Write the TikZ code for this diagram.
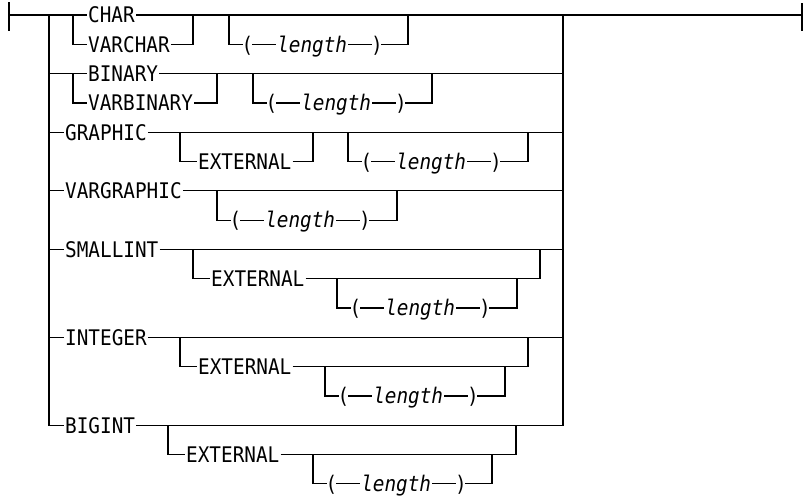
\documentclass[tikz,border=0pt]{standalone}
\usepackage{fontspec}
\setmonofont[FakeStretch=0.9]{DejaVu Sans Mono}
\usetikzlibrary{positioning}
\newcommand{\railfont}{\ttfamily\fontsize{21.5}{25}\selectfont}
\tikzstyle{kw} = [anchor=west, inner xsep=1pt, inner ysep=0pt, text height=15.6pt, text depth=0pt, font=\railfont]
\tikzstyle{paren} = [kw, inner xsep=-1.5pt]
\tikzstyle{param} = [kw, font=\railfont\itshape]
\tikzstyle{rail} = [draw, line width=1.2pt]
\tikzstyle{bar} = [draw, line width=2.2pt]

\begin{document}
\begin{tikzpicture}[x=1pt, y=-29.3pt]
    \useasboundingbox (0,-0.512) rectangle (803,16.45);
    \coordinate (start) at (9,0);
    \coordinate (stop) at (802,0);
    \coordinate (ml) at (49,0);
    \coordinate (mr) at (563,0);

    % CHAR / VARCHAR
    \node (char) [kw] at (87,0) {CHAR};
    \node (varchar) [kw] at (87,1) {VARCHAR};
    \coordinate (b1) at (73,0);
    \coordinate (m1) at (193,0);
    \coordinate (o1) at (229,0);
    \coordinate (o1e) at (408,0);
    \node (lp1) [paren] at (243,1) {(};
    \node (len1) [param, right=24pt of lp1] {length};
    \node (rp1) [paren, right=24pt of len1] {)};

    % BINARY / VARBINARY
    \node (binary) [kw] at (87,2) {BINARY};
    \node (varbinary) [kw] at (87,3) {VARBINARY};
    \coordinate (b2) at (73,2);
    \coordinate (m2) at (217,2);
    \coordinate (o2) at (253,2);
    \coordinate (o2e) at (432,2);
    \node (lp2) [paren] at (267,3) {(};
    \node (len2) [param, right=24pt of lp2] {length};
    \node (rp2) [paren, right=24pt of len2] {)};

    % GRAPHIC
    \node (graphic) [kw] at (64,4) {GRAPHIC};
    \coordinate (e1) at (180,4);
    \node (ext1) [kw] at (197,5) {EXTERNAL};
    \coordinate (e1e) at (313,4);
    \coordinate (o3) at (348,4);
    \coordinate (o3e) at (528,4);
    \node (lp3) [paren] at (362,5) {(};
    \node (len3) [param, right=24pt of lp3] {length};
    \node (rp3) [paren, right=24pt of len3] {)};

    % VARGRAPHIC
    \node (vargraphic) [kw] at (64,6) {VARGRAPHIC};
    \coordinate (o4) at (217,6);
    \coordinate (o4e) at (397,6);
    \node (lp4) [paren] at (231,7) {(};
    \node (len4) [param, right=24pt of lp4] {length};
    \node (rp4) [paren, right=24pt of len4] {)};

    % SMALLINT
    \node (smallint) [kw] at (64,8) {SMALLINT};
    \coordinate (e2) at (193,8);
    \node (ext2) [kw] at (210,9) {EXTERNAL};
    \coordinate (e2e) at (540,8);
    \coordinate (o5) at (337,9);
    \coordinate (o5e) at (517,9);
    \node (lp5) [paren] at (351,10) {(};
    \node (len5) [param, right=24pt of lp5] {length};
    \node (rp5) [paren, right=24pt of len5] {)};

    % INTEGER
    \node (integer) [kw] at (64,11) {INTEGER};
    \coordinate (e3) at (180,11);
    \node (ext3) [kw] at (197,12) {EXTERNAL};
    \coordinate (e3e) at (528,11);
    \coordinate (o6) at (325,12);
    \coordinate (o6e) at (505,12);
    \node (lp6) [paren] at (339,13) {(};
    \node (len6) [param, right=24pt of lp6] {length};
    \node (rp6) [paren, right=24pt of len6] {)};

    % BIGINT
    \node (bigint) [kw] at (64,14) {BIGINT};
    \coordinate (e4) at (168,14);
    \node (ext4) [kw] at (185,15) {EXTERNAL};
    \coordinate (e4e) at (516,14);
    \coordinate (o7) at (313,15);
    \coordinate (o7e) at (492,15);
    \node (lp7) [paren] at (327,16) {(};
    \node (len7) [param, right=24pt of lp7] {length};
    \node (rp7) [paren, right=24pt of len7] {)};

    % main line and ends
    \draw [rail] ([yshift=13pt]start) -- ([yshift=-16pt]start);
    \draw [rail] ([yshift=12pt]stop) -- ([yshift=-16pt]stop);
    \draw [rail] (start) -- (char.west);
    \draw [rail] (char.east) -- (stop);
    \draw [bar] (start) -- ([xshift=16pt]start);
    \draw [bar] ([xshift=7pt]mr) -- ([xshift=30pt]mr);
    \draw [rail] (ml) |- (bigint.west);
    \draw [rail] (bigint.east) -| (mr);

    \draw [rail] (b1) |- (varchar.west);
    \draw [rail] (varchar.east) -| (m1);
    \draw [rail] (o1) |- (lp1.west);
    \draw [rail] (lp1) -- (len1);
    \draw [rail] (len1) -- (rp1);
    \draw [rail] (rp1.east) -| (o1e);

    \draw [rail] (ml |- binary) -- (binary.west);
    \draw [rail] (binary.east) -- (mr |- binary);
    \draw [rail] (b2) |- (varbinary.west);
    \draw [rail] (varbinary.east) -| (m2);
    \draw [rail] (o2) |- (lp2.west);
    \draw [rail] (lp2) -- (len2);
    \draw [rail] (len2) -- (rp2);
    \draw [rail] (rp2.east) -| (o2e);

    \draw [rail] (ml |- graphic) -- (graphic.west);
    \draw [rail] (graphic.east) -- (mr |- graphic);
    \draw [rail] (e1) |- (ext1.west);
    \draw [rail] (ext1.east) -| (e1e);
    \draw [rail] (o3) |- (lp3.west);
    \draw [rail] (lp3) -- (len3);
    \draw [rail] (len3) -- (rp3);
    \draw [rail] (rp3.east) -| (o3e);

    \draw [rail] (ml |- vargraphic) -- (vargraphic.west);
    \draw [rail] (vargraphic.east) -- (mr |- vargraphic);
    \draw [rail] (o4) |- (lp4.west);
    \draw [rail] (lp4) -- (len4);
    \draw [rail] (len4) -- (rp4);
    \draw [rail] (rp4.east) -| (o4e);

    \draw [rail] (ml |- smallint) -- (smallint.west);
    \draw [rail] (smallint.east) -- (mr |- smallint);
    \draw [rail] (e2) |- (ext2.west);
    \draw [rail] (ext2.east) -| (e2e);
    \draw [rail] (o5) |- (lp5.west);
    \draw [rail] (lp5) -- (len5);
    \draw [rail] (len5) -- (rp5);
    \draw [rail] (rp5.east) -| (o5e);

    \draw [rail] (ml |- integer) -- (integer.west);
    \draw [rail] (integer.east) -- (mr |- integer);
    \draw [rail] (e3) |- (ext3.west);
    \draw [rail] (ext3.east) -| (e3e);
    \draw [rail] (o6) |- (lp6.west);
    \draw [rail] (lp6) -- (len6);
    \draw [rail] (len6) -- (rp6);
    \draw [rail] (rp6.east) -| (o6e);

    \draw [rail] (e4) |- (ext4.west);
    \draw [rail] (ext4.east) -| (e4e);
    \draw [rail] (o7) |- (lp7.west);
    \draw [rail] (lp7) -- (len7);
    \draw [rail] (len7) -- (rp7);
    \draw [rail] (rp7.east) -| (o7e);

\end{tikzpicture}
\end{document}
